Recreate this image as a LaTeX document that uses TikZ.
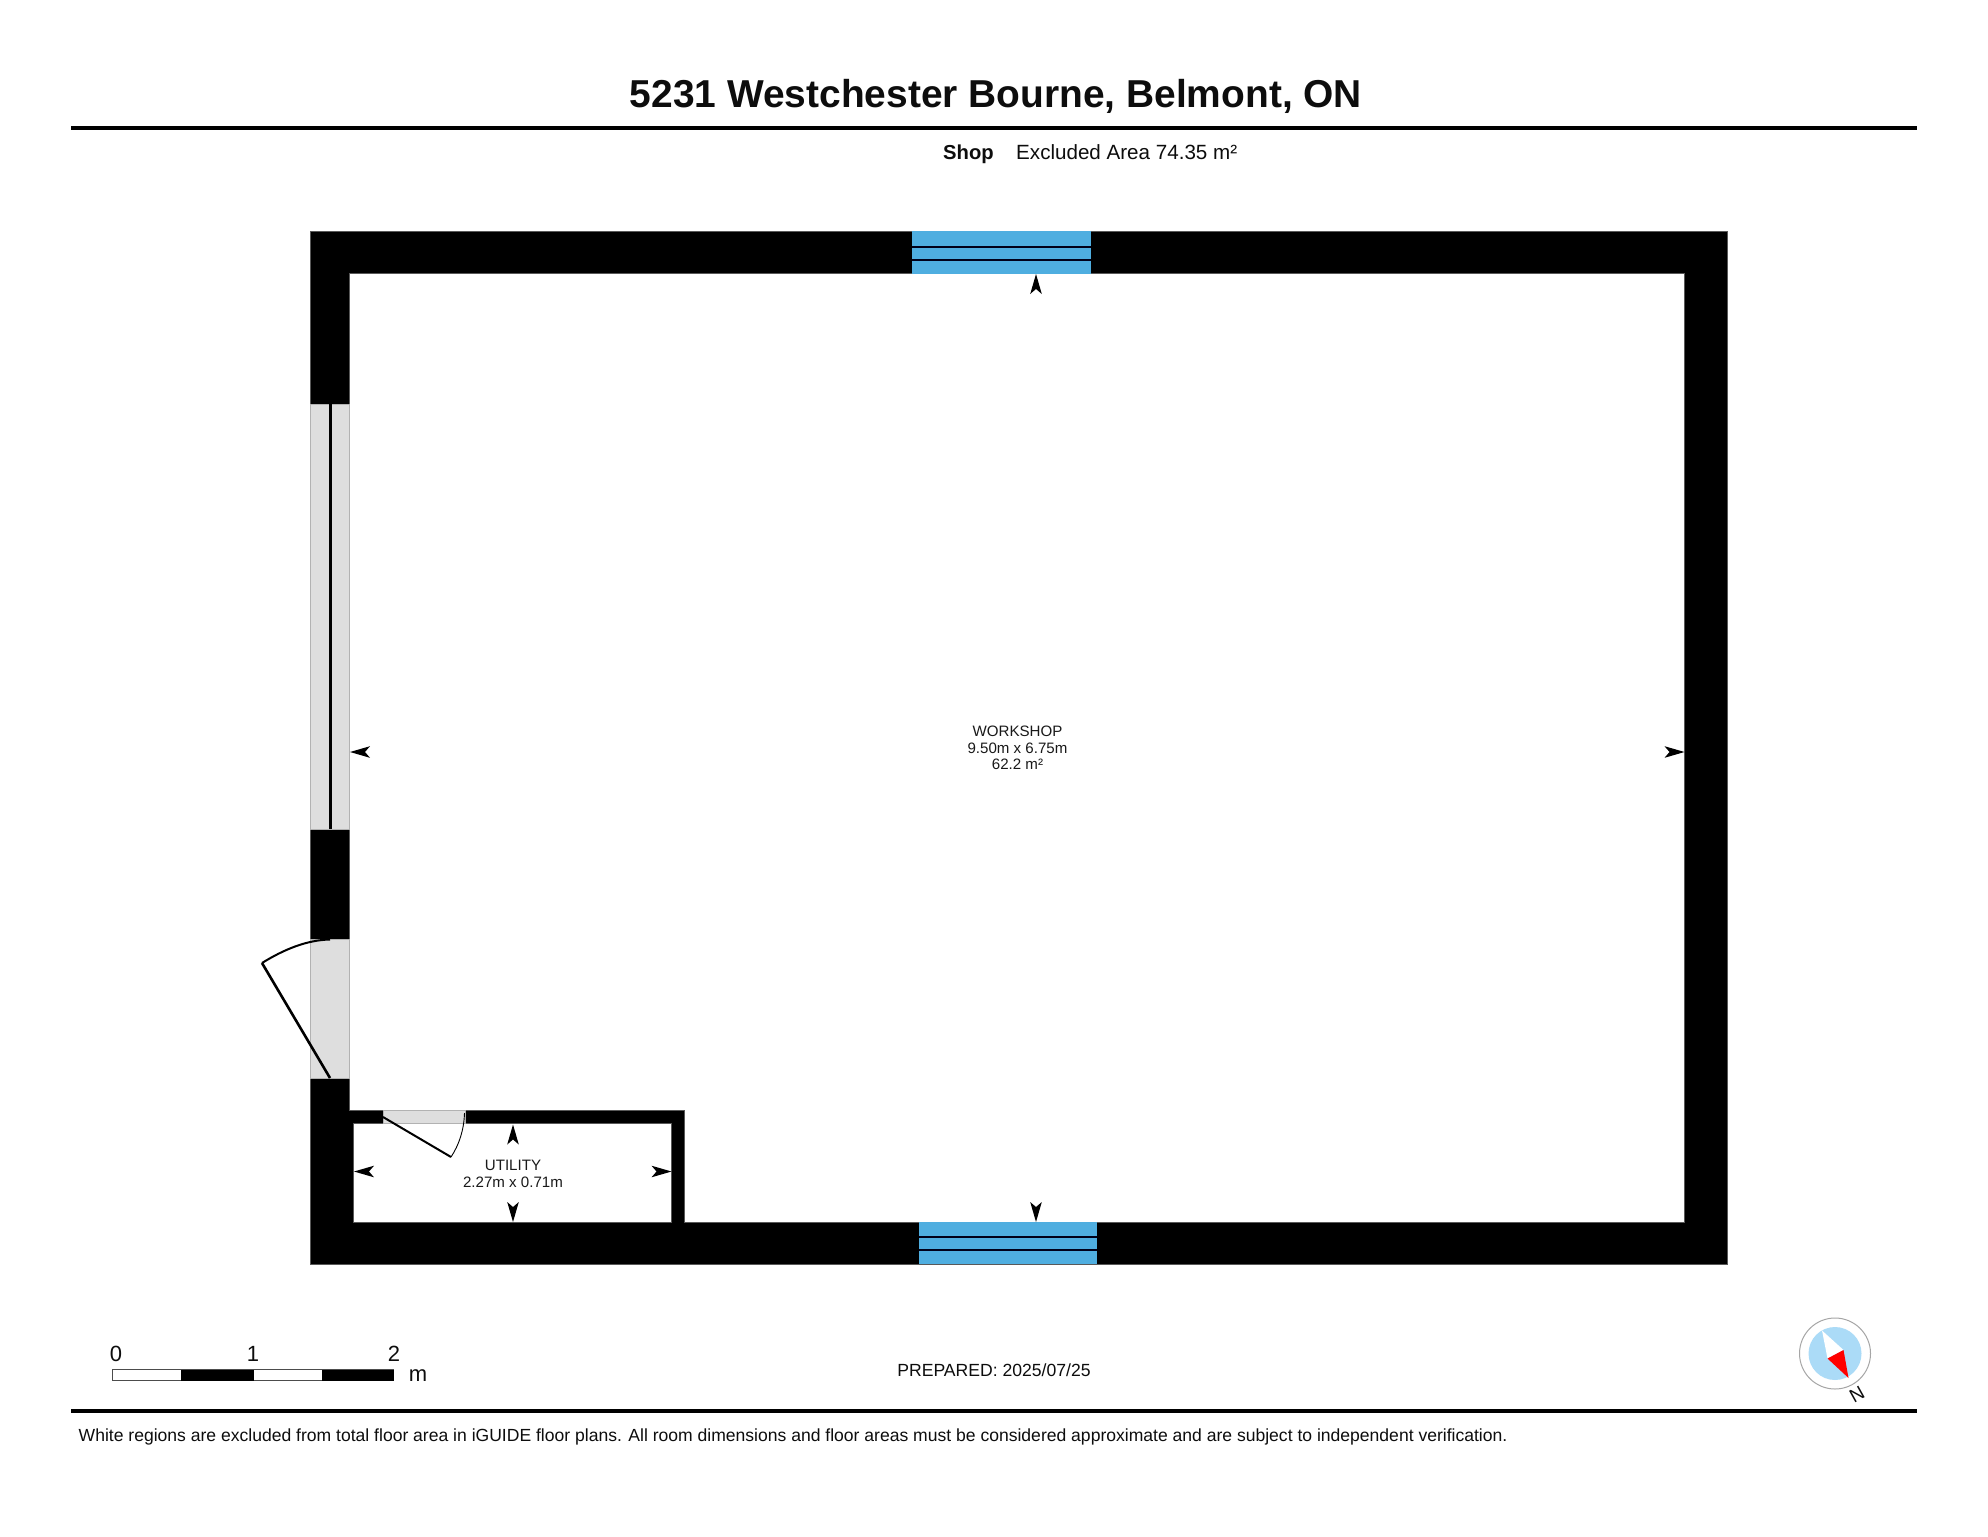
\documentclass[tikz,border=0pt]{standalone}
\usepackage{fontspec}
\setmainfont{Liberation Sans}
\definecolor{glazing}{HTML}{4FAEE0}
\definecolor{opening}{HTML}{DEDEDE}
\definecolor{dial}{HTML}{ABDBF7}
\tikzset{
  wall/.style={fill=black, draw=black!65, line width=0.5pt},
  gap/.style={fill=opening, draw=black!30, line width=0.5pt},
  pane/.style={fill=glazing, draw=none},
  rule/.style={line width=3.4pt},
  roomlabel/.style={font=\fontsize{15.1}{16.5}\selectfont, align=center, inner sep=0pt, text=black!90},
  planlabel/.style={inner sep=0pt, text=black!95},
  dimtip/.pic={\fill (0,0) -- (-20,5.8) -- (-15,0) -- (-20,-5.8) -- cycle;}
}
\begin{document}
\begin{tikzpicture}[x=1pt,y=-1pt]
    \useasboundingbox (0,0) rectangle (1988,1536);
    \fill[white] (0,0) rectangle (1988,1536);

    % Heading
    \node[planlabel, font=\fontsize{38.9}{41}\bfseries\selectfont] (title) at (996,96) {5231 Westchester Bourne, Belmont, ON};
    \draw[rule] (71,128) -- (1917,128);
    \node[planlabel, font=\fontsize{20.2}{22}\bfseries\selectfont, anchor=base west] (shop) at (943,159.5) {Shop};
    \node[planlabel, font=\fontsize{20.6}{22}\selectfont, anchor=base west] (area) at (1016,159.5) {Excluded Area 74.35 m²};

    % Walls
    \draw[wall, even odd rule] (310,231) rectangle (1727,1264)
        (349,273) -- (1684.5,273) -- (1684.5,1222) -- (684.5,1222) -- (684.5,1110) -- (349,1110) -- cycle
        (353,1123) rectangle (671.5,1222);

    % Windows
    \draw[pane] (912,231) rectangle (1090.5,274);
    \draw[line width=2pt, black!90!blue] (912,246.5) -- (1090.5,246.5) (912,260) -- (1090.5,260);
    \draw[pane] (918.5,1222) rectangle (1096.5,1264);
    \draw[line width=2pt, black!90!blue] (918.5,1236.5) -- (1096.5,1236.5) (918.5,1250) -- (1096.5,1250);
    \draw[gap] (310,404) rectangle (349,829);
    \draw[line width=3pt] (330,404) -- (330,829);

    % Outside door
    \draw[gap] (310,939) rectangle (349,1078);
    \draw[line width=2.6pt] (330,1078) -- (262,963);
    \draw[line width=2pt] (262,963) .. controls (283,950) and (306,940) .. (330,939.5);

    % Utility door
    \draw[gap] (383,1110) rectangle (465,1123);
    \draw[line width=2pt] (383,1117) -- (451,1157);
    \draw[line width=0.9pt] (451,1157) .. controls (459,1145) and (464,1130) .. (464.5,1113);

    % Dimension tips
    \pic at (350,752) [rotate=180] {dimtip};
    \pic at (1684.5,752) {dimtip};
    \pic at (1036,274) [rotate=90] {dimtip};
    \pic at (1036,1222) [rotate=-90] {dimtip};
    \pic at (354,1171.5) [rotate=180] {dimtip};
    \pic at (671.5,1171.5) {dimtip};
    \pic at (513,1124.5) [rotate=90] {dimtip};
    \pic at (513,1222) [rotate=-90] {dimtip};

    % Room labels
    \node[roomlabel] (workshop) at (1017.5,748) {WORKSHOP\\9.50m x 6.75m\\62.2 m²};
    \node[roomlabel] (utility) at (513,1174) {UTILITY\\2.27m x 0.71m};

    % Scale bar
    \draw[black!70, fill=white, line width=0.7pt] (112.5,1369.5) rectangle (393.5,1380.5);
    \fill (181,1369.5) rectangle (253.5,1380.5);
    \fill (322,1369.5) rectangle (393.5,1380.5);
    \node[planlabel, font=\fontsize{22}{24}\selectfont, anchor=base] (scale0) at (116,1361) {0};
    \node[planlabel, font=\fontsize{22}{24}\selectfont, anchor=base] (scale1) at (253,1361) {1};
    \node[planlabel, font=\fontsize{22}{24}\selectfont, anchor=base] (scale2) at (394,1361) {2};
    \node[planlabel, font=\fontsize{22}{24}\selectfont, anchor=base] (scalem) at (418,1381.5) {m};

    % Prepared date
    \node[planlabel, font=\fontsize{17.6}{19}\selectfont] (prepared) at (994,1370) {PREPARED: 2025/07/25};

    % Compass
    \draw[black!35, fill=white, line width=1pt] (1835,1353.5) circle (35.5);
    \fill[dial] (1835,1353.5) circle (26.5);
    \fill[white] (1822,1330.5) -- (1843.5,1350) -- (1827.5,1358.5) -- cycle;
    \fill[red] (1848.5,1378) -- (1843.5,1350) -- (1827.5,1358.5) -- cycle;
    \node[planlabel, font=\fontsize{19}{20}\selectfont, rotate=29] (north) at (1857,1394) {N};

    % Footer
    \draw[rule] (71,1411) -- (1917,1411);
    \node[planlabel, font=\fontsize{17.55}{19}\selectfont, anchor=base west] (note) at (78.5,1441) {White regions are excluded from total floor area in iGUIDE floor plans. All room dimensions and floor areas must be considered approximate and are subject to independent verification.};
\end{tikzpicture}
\end{document}
